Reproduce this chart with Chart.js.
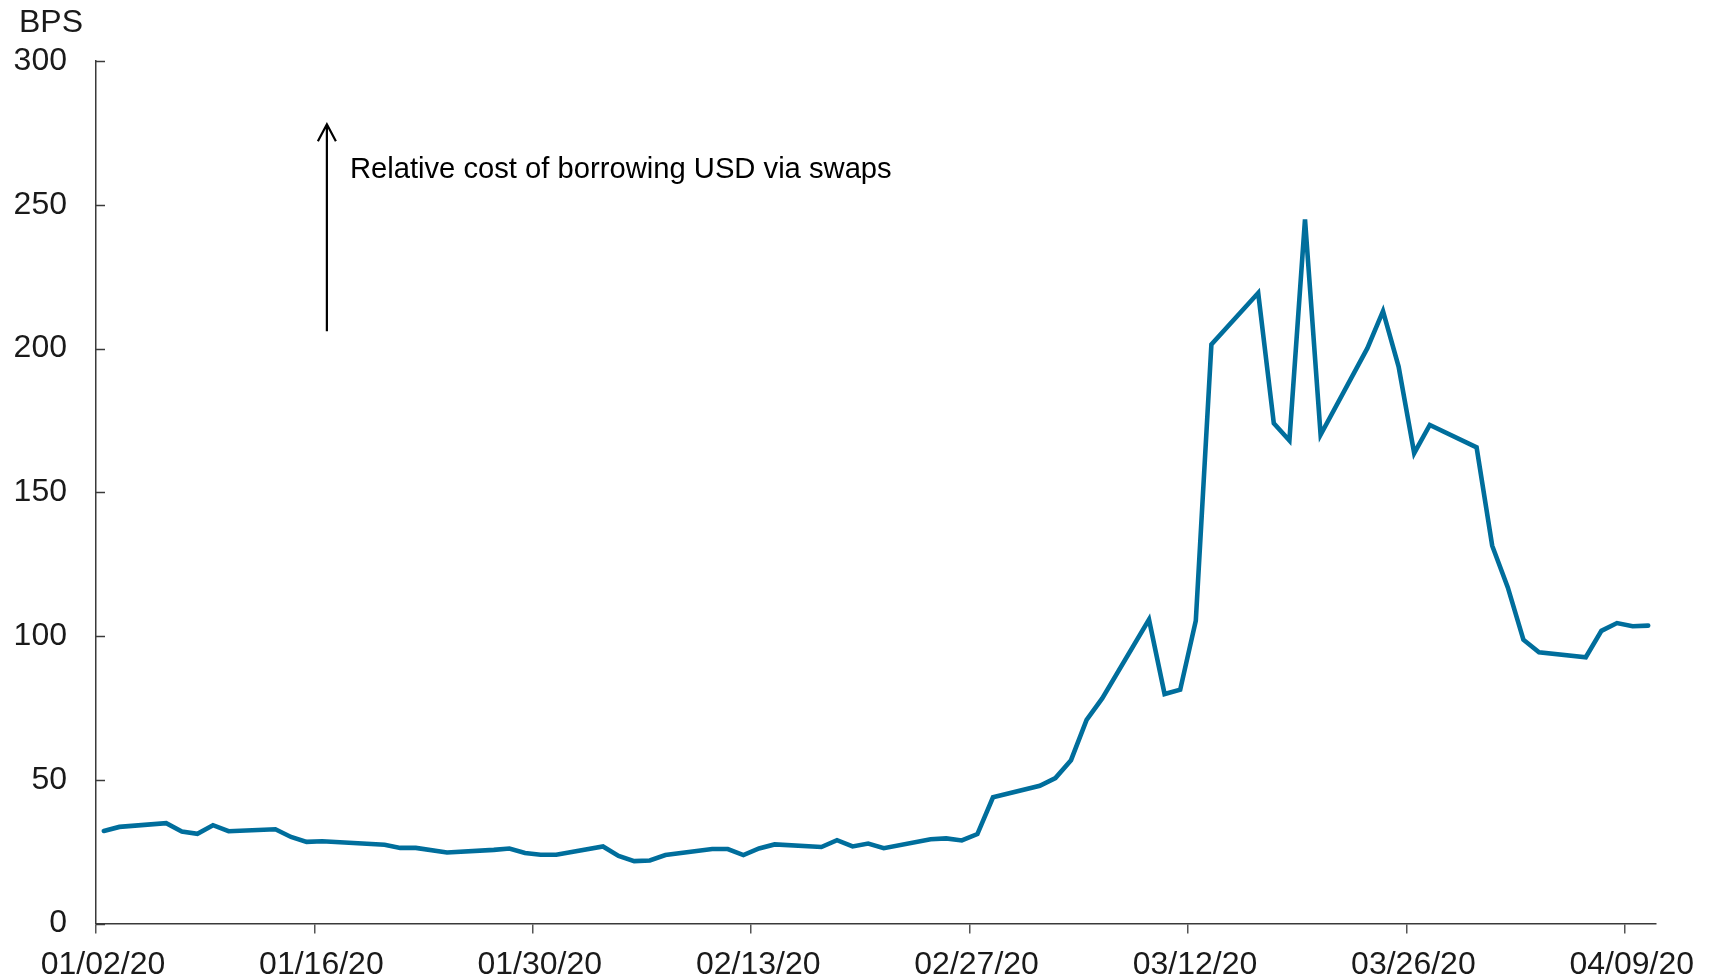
<!DOCTYPE html>
<html>
<head>
<meta charset="utf-8">
<title>Relative cost of borrowing USD via swaps</title>
<script src="https://cdn.jsdelivr.net/npm/chart.js@4/dist/chart.umd.min.js"></script>
<style>
    html, body { margin: 0; padding: 0; background: #fff; }
    #wrap { width: 1713px; height: 979px; position: relative; }
</style>
</head>
<body>
<div id="wrap"><canvas id="lineChart"></canvas></div>
<script>
// trading dates (2020) and basis points
const dates = [
    '01/02','01/03','01/06','01/07','01/08','01/09','01/10','01/13','01/14','01/15',
    '01/16','01/20','01/21','01/22','01/24','01/27','01/28','01/29','01/30','01/31',
    '02/03','02/04','02/05','02/06','02/07','02/10','02/11','02/12','02/13','02/14',
    '02/17','02/18','02/19','02/20','02/21','02/24','02/25','02/26','02/27','02/28',
    '03/02','03/03','03/04','03/05','03/06','03/09','03/10','03/11','03/12','03/13',
    '03/16','03/17','03/18','03/19','03/20','03/23','03/24','03/25','03/26','03/27',
    '03/30','03/31','04/01','04/02','04/03','04/06','04/07','04/08','04/09','04/10'
];
const bps = [
    32.2, 33.6, 34.9, 32.0, 31.2, 34.2, 32.1, 32.8, 30.1, 28.4,
    28.6, 27.4, 26.3, 26.3, 24.7, 25.6, 26.1, 24.5, 23.9, 23.9,
    26.8, 23.5, 21.7, 21.9, 23.8, 25.9, 25.9, 23.8, 26.1, 27.5,
    26.6, 29.0, 26.8, 27.8, 26.2, 29.3, 29.6, 28.9, 31.1, 43.9,
    47.9, 50.6, 56.8, 70.8, 78.3, 105.7, 79.8, 81.3, 105.3, 201.4,
    219.3, 174.0, 168.0, 244.9, 170.0, 200.1, 213.0, 193.7, 163.6, 173.4,
    165.6, 131.4, 116.9, 98.7, 94.3, 92.6, 101.8, 104.5, 103.4, 103.6
];
const yTicks = [0, 50, 100, 150, 200, 250, 300];
const xTickEvery = 14;   // days between date labels
const xDaysShown = 100;  // 01/02 .. 04/11
const unitLabel = 'BPS';
const noteText = 'Relative cost of borrowing USD via swaps';

const DAY = 86400000;
const start = Date.UTC(2020, 0, 2);
const dayIndex = s => {
    const [m, d] = s.split('/').map(Number);
    return (Date.UTC(2020, m - 1, d) - start) / DAY;
};
const fmtDay = v => {
    const dt = new Date(start + v * DAY);
    const mm = String(dt.getUTCMonth() + 1).padStart(2, '0');
    const dd = String(dt.getUTCDate()).padStart(2, '0');
    return mm + '/' + dd + '/20';
};

const FONT = '"Liberation Sans", Arial, sans-serif';
const TXT = '#1a1a1a';
const AXIS = '#3a3a3a';

// y ticks point into the plot, plus the unit label and the arrow note
const extras = {
    id: 'extras',
    afterDraw(chart) {
        const { ctx, scales: { x, y } } = chart;
        ctx.save();
        ctx.strokeStyle = AXIS;
        ctx.lineWidth = 1.5;
        yTicks.forEach(v => {
            const py = Math.round(y.getPixelForValue(v)) + 0.5;
            ctx.beginPath();
            ctx.moveTo(x.left, py);
            ctx.lineTo(x.left + 9, py);
            ctx.stroke();
        });

        ctx.fillStyle = TXT;
        ctx.font = '32px ' + FONT;
        ctx.textBaseline = 'middle';
        ctx.textAlign = 'left';
        ctx.fillText(unitLabel, 19, 23);

        // arrow
        const ax = x.getPixelForValue(14.8);
        const aTop = y.getPixelForValue(278);
        const aBot = y.getPixelForValue(206);
        ctx.strokeStyle = '#000';
        ctx.lineWidth = 2.2;
        ctx.beginPath();
        ctx.moveTo(ax, aBot);
        ctx.lineTo(ax, aTop);
        ctx.moveTo(ax - 9, aTop + 17);
        ctx.lineTo(ax, aTop);
        ctx.lineTo(ax + 9, aTop + 17);
        ctx.stroke();

        ctx.fillStyle = '#000';
        ctx.font = '29.2px ' + FONT;
        ctx.fillText(noteText, ax + 23, y.getPixelForValue(262));
        ctx.restore();
    }
};

new Chart(document.getElementById('lineChart'), {
    type: 'line',
    data: {
        datasets: [{
            label: noteText,
            data: dates.map((d, i) => ({ x: dayIndex(d) + 0.5, y: bps[i] })),
            borderColor: '#006e9c',
            borderWidth: 4.6,
            borderCapStyle: 'round',
            borderJoinStyle: 'miter',
            pointRadius: 0,
            tension: 0,
            fill: false
        }]
    },
    options: {
        responsive: true,
        maintainAspectRatio: false,
        animation: false,
        layout: { padding: { top: 61, right: 57, bottom: 0, left: 0 } },
        plugins: {
            legend: { display: false },
            tooltip: { enabled: false }
        },
        scales: {
            x: {
                type: 'linear',
                min: 0,
                max: xDaysShown,
                bounds: 'data',
                afterBuildTicks(scale) {
                    scale.ticks = scale.ticks.filter(t => t.value % xTickEvery === 0);
                },
                afterFit(scale) { scale.height = 55.5; },
                grid: { drawOnChartArea: false, drawTicks: true, tickLength: 10, color: '#555', lineWidth: 1.5 },
                border: { display: true, color: AXIS, width: 1.5 },
                ticks: {
                    stepSize: xTickEvery,
                    autoSkip: false,
                    maxRotation: 0,
                    padding: 12,
                    labelOffset: 7,
                    color: TXT,
                    font: { family: FONT, size: 32 },
                    callback: v => fmtDay(v)
                }
            },
            y: {
                min: 0,
                max: 300,
                afterFit(scale) { scale.width = 96; },
                grid: { drawOnChartArea: false, drawTicks: false },
                border: { display: true, color: AXIS, width: 1.5 },
                ticks: {
                    stepSize: 50,
                    padding: 29,
                    color: TXT,
                    font: { family: FONT, size: 32 }
                }
            }
        }
    },
    plugins: [extras]
});
</script>
</body>
</html>
